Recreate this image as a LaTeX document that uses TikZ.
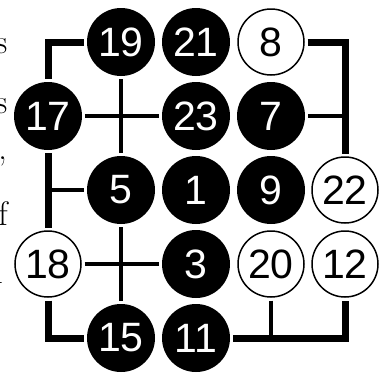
\documentclass[tikz,border=0pt]{standalone}
\usepackage{fontspec}
\newfontfamily\numfont{Liberation Sans}
\begin{document}
\begin{tikzpicture}[x=1pt,y=-1pt,
  numtext/.style={font=\numfont\fontsize{41}{41}\selectfont},
  bnode/.style={circle, fill=black, text=white, minimum size=68pt, inner sep=0pt, outer sep=3pt, numtext},
  wnode/.style={circle, draw=black, line width=1.5pt, fill=white, text=black, minimum size=66pt, inner sep=0pt, outer sep=3.5pt, numtext},
  thickline/.style={line width=7pt, line join=miter},
  thinline/.style={line width=3.5pt},
  sidetext/.style={anchor=base east, inner sep=0pt, font=\fontsize{34}{34}\selectfont}
]
\useasboundingbox (0,0) rectangle (385,375);
\clip (0,0) rectangle (385,375);
% side text fragments
\node[sidetext] (s1) at (7.5,53) {s};
\node[sidetext] (s2) at (7.5,113) {s};
\node[sidetext] (s3) at (7,159) {,};
\node[sidetext] (s4) at (8,225) {f};
\node[sidetext] (s5) at (3,283) {n};
% nodes
\node[bnode] (n19) at (121,42) {19};
\node[bnode] (n21) at (196,42) {21};
\node[wnode] (n8)  at (271,42) {8};
\node[bnode] (n17) at (48,116) {17};
\node[bnode] (n23) at (196,116) {23};
\node[bnode] (n7)  at (271,116) {7};
\node[bnode] (n5)  at (121,190) {5};
\node[bnode] (n1)  at (196,190) {1};
\node[bnode] (n9)  at (271,190) {9};
\node[wnode] (n22) at (345,190) {22};
\node[wnode] (n18) at (48,264) {18};
\node[bnode] (n3)  at (196,264) {3};
\node[wnode] (n20) at (271,264) {20};
\node[wnode] (n12) at (345,264) {12};
\node[bnode] (n15) at (121,338) {15};
\node[bnode] (n11) at (196,338) {11};
% junction coordinates
\coordinate (jr) at (345,116);
\coordinate (jl) at (48,190);
\coordinate (jb) at (271,338);
% thick brackets
\draw[thickline] (n19.west) -| (n17.north);
\draw[thickline] (n8.east) -| (n22.north);
\draw[thickline] (n17.south) -- (n18.north);
\draw[thickline] (n18.south) |- (n15.west);
\draw[thickline] (n11.east) -| (n12.south);
% thin connectors
\draw[thinline] (n17.east) -- (n23.west);
\draw[thinline] (n19.south) -- (n5.north);
\draw[thinline] (n7.east) -- (jr);
\draw[thinline] (jl) -- (n5.west);
\draw[thinline] (n18.east) -- (n3.west);
\draw[thinline] (n5.south) -- (n15.north);
\draw[thinline] (n20.south) -- (jb);
\end{tikzpicture}
\end{document}
